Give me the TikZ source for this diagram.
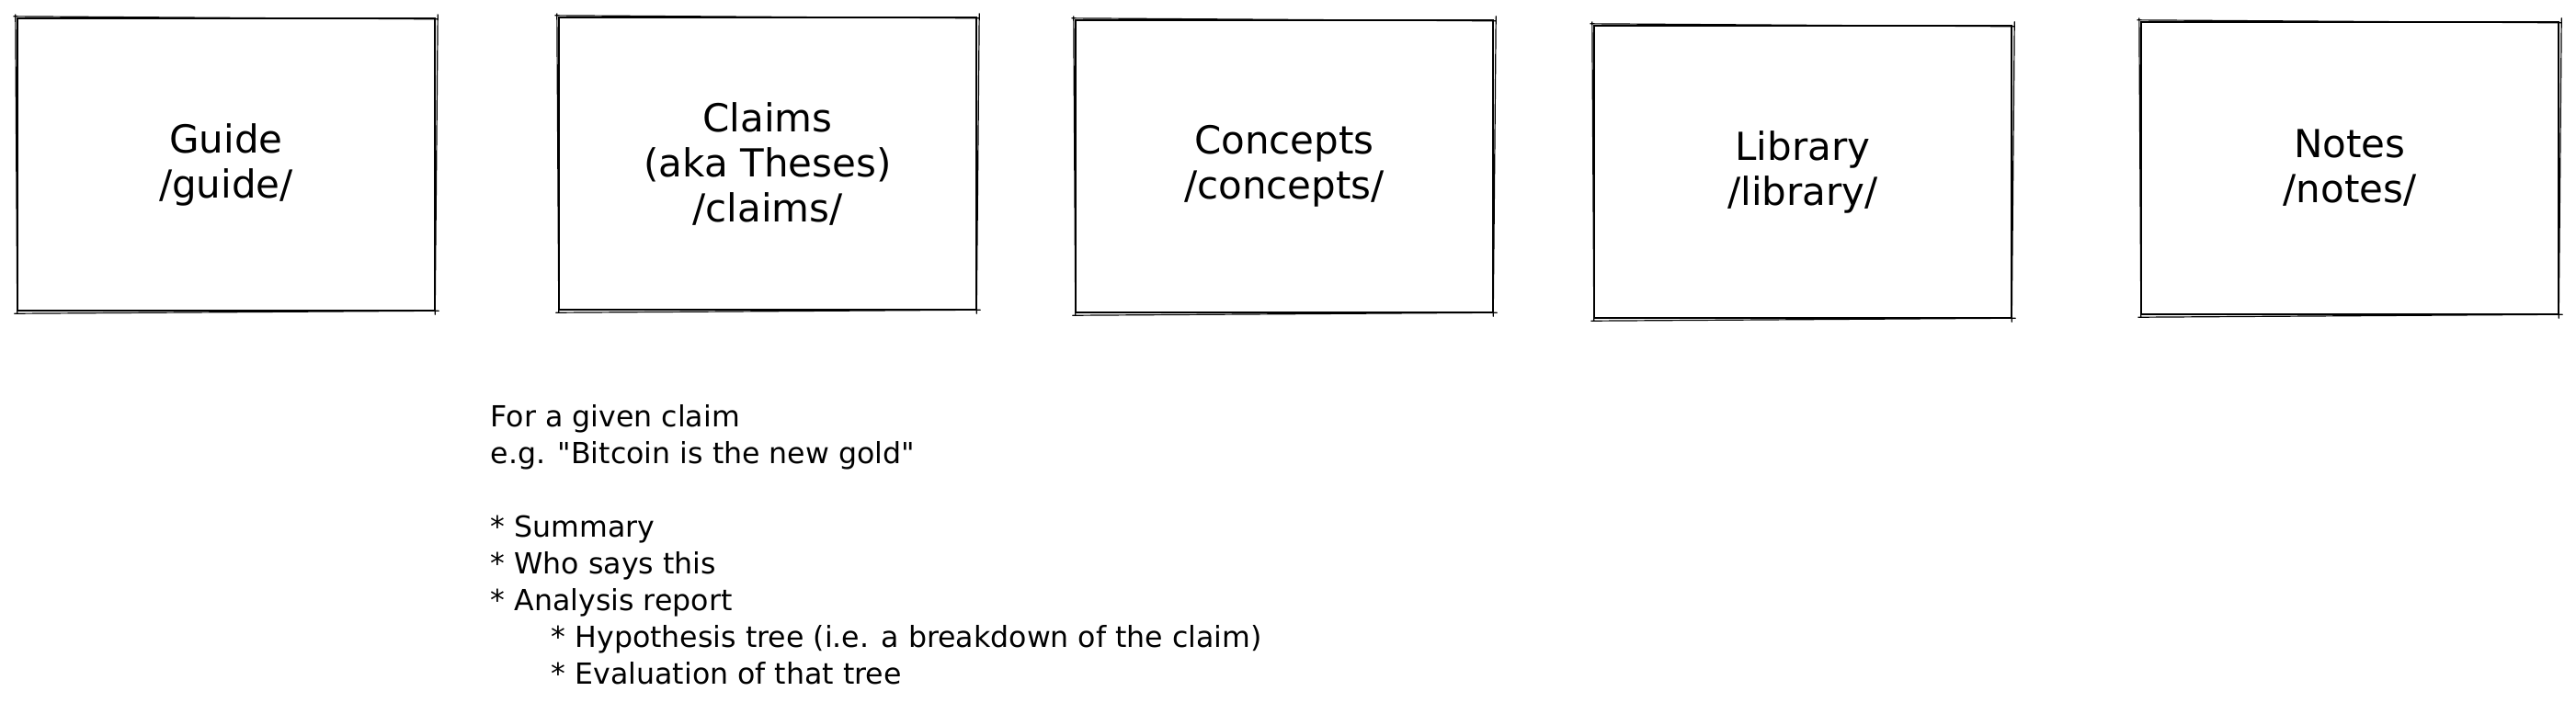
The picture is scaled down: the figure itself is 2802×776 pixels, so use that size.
\documentclass[tikz,border=0pt]{standalone}
\usepackage{fontspec}
\setmainfont{DejaVu Sans}[Ligatures=TeXOff]
\tikzset{
  box/.style={draw=black, line width=0.6pt, minimum width={113.5pt}, minimum height={79.5pt},
    inner sep=0pt, align=center, font=\fontsize{10.5pt}{12.25pt}\selectfont},
  roughline/.style={draw=black, line width=0.3pt, line cap=round},
  bodytext/.style={inner sep=0pt, align=left, anchor=north west,
    font=\fontsize{7.9pt}{10pt}\selectfont}
}
\newcommand\roughrect[1]{%
  \draw[roughline] ([shift={(-3,-1)}]#1.north west) -- ([shift={(2,2)}]#1.north east)
    ([shift={(2,-3)}]#1.north east) -- ([shift={(-1,3)}]#1.south east)
    ([shift={(3,-1)}]#1.south east) -- ([shift={(-2,2)}]#1.south west)
    ([shift={(1,2)}]#1.south west) -- ([shift={(-1,-3)}]#1.north west);}
\begin{document}
\begin{tikzpicture}[x=0.25pt,y=-0.25pt]
  \useasboundingbox[fill=white] (0,0) rectangle (2802,776);
  \node[box] (guide) at (246,179) {Guide\\/guide/};
  \node[box] (claims) at (835,178) {Claims\\(aka Theses)\\/claims/};
  \node[box] (concepts) at (1397,181) {Concepts\\/concepts/};
  \node[box] (library) at (1961,187) {Library\\/library/};
  \node[box] (notes) at (2556,183) {Notes\\/notes/};
  \roughrect{guide}
  \roughrect{claims}
  \roughrect{concepts}
  \roughrect{library}
  \roughrect{notes}
  \node[bodytext] (desc) at (533,440) {For a given claim\\
    e.g. "Bitcoin is the new gold"\\[10pt]
    * Summary\\
    * Who says this\\
    * Analysis report\\
    \hspace*{16.5pt}* Hypothesis tree (i.e. a breakdown of the claim)\\
    \hspace*{16.5pt}* Evaluation of that tree};
\end{tikzpicture}
\end{document}
